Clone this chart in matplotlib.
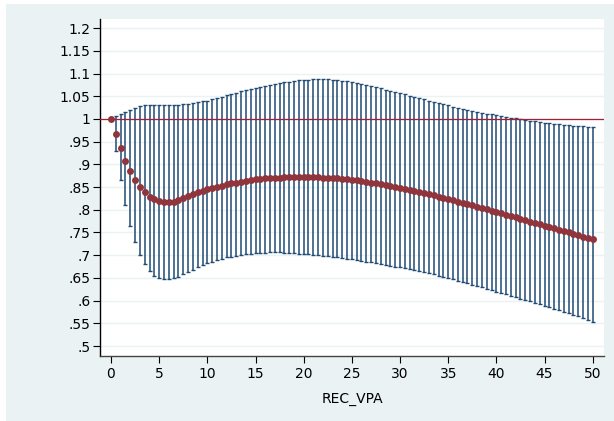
import matplotlib
matplotlib.use('Agg')
import matplotlib.pyplot as plt

# REC_VPA grid (0, 0.5, ..., 50)
rec_vpa = [i * 0.5 for i in range(101)]

estimate = [
    1.000, .967, .936, .908, .885, .865, .850, .838, .829, .823,
    .819, .817, .816, .818, .822, .826, .830, .834, .838, .842,
    .845, .848, .851, .853, .856, .858, .860, .862, .864, .865,
    .867, .868, .869, .870, .871, .871, .872, .872, .873, .873,
    .873, .873, .872, .872, .871, .871, .870, .869, .868, .867,
    .866, .865, .863, .862, .860, .858, .857, .855, .853, .851,
    .849, .846, .844, .842, .839, .837, .834, .832, .829, .826,
    .824, .821, .818, .815, .812, .810, .807, .804, .801, .798,
    .795, .792, .789, .786, .783, .780, .777, .774, .771, .768,
    .765, .762, .759, .756, .753, .750, .747, .744, .741, .738,
    .735,
]

upper = [
    1.000, 1.007, 1.011, 1.015, 1.020, 1.025, 1.028, 1.030, 1.031, 1.031,
    1.031, 1.031, 1.031, 1.031, 1.031, 1.032, 1.033, 1.035, 1.037, 1.039,
    1.040, 1.043, 1.046, 1.049, 1.052, 1.055, 1.058, 1.061, 1.064, 1.066,
    1.068, 1.071, 1.073, 1.075, 1.077, 1.079, 1.081, 1.082, 1.084, 1.085,
    1.086, 1.086, 1.087, 1.087, 1.087, 1.087, 1.086, 1.085, 1.084, 1.083,
    1.081, 1.079, 1.077, 1.075, 1.072, 1.070, 1.067, 1.064, 1.062, 1.059,
    1.056, 1.054, 1.051, 1.048, 1.045, 1.043, 1.040, 1.037, 1.035, 1.032,
    1.030, 1.027, 1.025, 1.022, 1.020, 1.018, 1.015, 1.013, 1.011, 1.010,
    1.009, 1.007, 1.005, 1.003, 1.001, .999, .998, .996, .995, .993,
    .991, .990, .989, .988, .987, .986, .985, .985, .984, .983,
    .983,
]

lower = [
    1.000, .929, .866, .811, .764, .729, .701, .680, .665, .655,
    .649, .647, .647, .649, .653, .658, .663, .668, .673, .678,
    .683, .686, .689, .692, .695, .697, .699, .701, .702, .703,
    .704, .705, .705, .706, .706, .706, .705, .705, .704, .703,
    .703, .702, .701, .700, .699, .698, .697, .695, .694, .692,
    .691, .689, .688, .686, .684, .682, .680, .678, .677, .675,
    .673, .671, .669, .667, .665, .663, .660, .658, .655, .653,
    .650, .647, .644, .641, .638, .635, .632, .629, .626, .623,
    .620, .617, .614, .611, .608, .604, .601, .598, .595, .592,
    .588, .585, .582, .579, .575, .572, .569, .566, .562, .557,
    .552,
]

y_ticks = [.5, .55, .6, .65, .7, .75, .8, .85, .9, .95, 1, 1.05, 1.1, 1.15, 1.2]
y_labels = ['.5', '.55', '.6', '.65', '.7', '.75', '.8', '.85', '.9', '.95',
            '1', '1.05', '1.1', '1.15', '1.2']
x_ticks = list(range(0, 51, 5))

navy = '#1F4A73'
maroon = '#90353B'
bg = '#EAF2F3'

plt.rcParams['font.family'] = ['DejaVu Sans']

fig = plt.figure(figsize=(6.14, 4.21), dpi=100)
fig.patch.set_facecolor('white')

# outer Stata-like background panel
bg_ax = fig.add_axes([6 / 614, 0, 1 - 6 / 614, 1 - 4 / 421], zorder=-10)
bg_ax.set_facecolor(bg)
bg_ax.set_xticks([])
bg_ax.set_yticks([])
for s in bg_ax.spines.values():
    s.set_visible(False)

ax = fig.add_axes([100 / 614, 1 - 356 / 421, 504 / 614, 337 / 421])
ax.set_facecolor('white')

err_lo = [e - l for e, l in zip(estimate, lower)]
err_hi = [u - e for e, u in zip(estimate, upper)]
ax.errorbar(rec_vpa, estimate, yerr=[err_lo, err_hi], fmt='none', ecolor=navy,
            elinewidth=1.1, capsize=1.7, capthick=1.0, zorder=2)
ax.axhline(1, color='#A51E36', linewidth=0.9, zorder=3)
ax.plot(rec_vpa, estimate, 'o', color=maroon, markersize=5.0, markeredgewidth=0, zorder=4)

ax.set_xlim(-1.14, 51.17)
ax.set_ylim(0.478, 1.22)
ax.set_xticks(x_ticks)
ax.set_yticks(y_ticks)
ax.set_yticklabels(y_labels)
ax.tick_params(axis='both', direction='out', length=5, width=0.8, labelsize=10,
               colors='black', pad=2)
ax.tick_params(axis='x', pad=3)
ax.yaxis.grid(True, color=bg, linewidth=1.0)
ax.set_axisbelow(True)

for s in ['top', 'right']:
    ax.spines[s].set_visible(False)
ax.spines['left'].set_linewidth(1.0)
ax.spines['bottom'].set_linewidth(1.0)
ax.spines['bottom'].set_color('#444444')

ax.set_xlabel('REC_VPA', fontsize=10, labelpad=8)

fig.savefig('out.png', dpi=100)
